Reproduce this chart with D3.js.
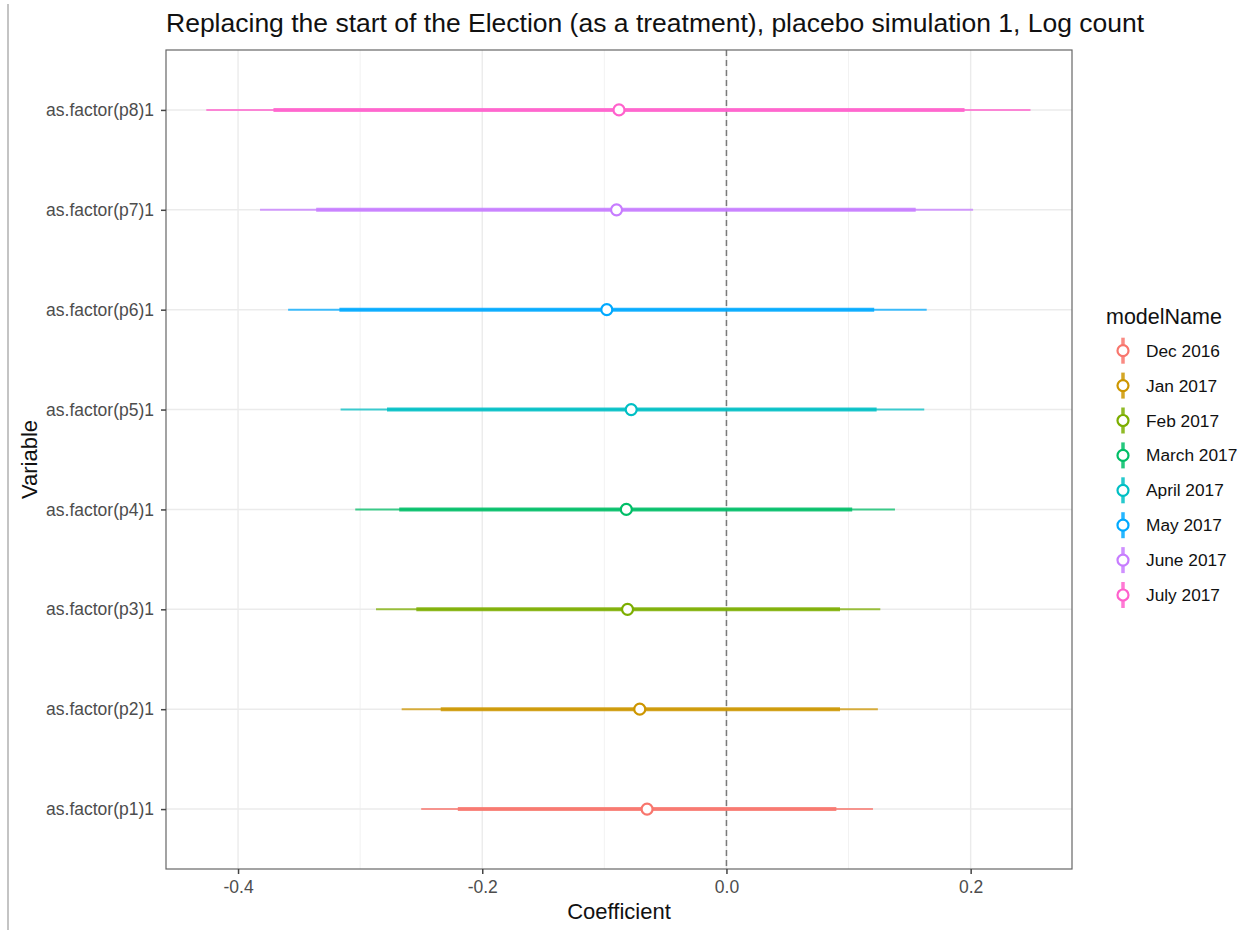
<!DOCTYPE html>
<html>
<head>
<meta charset="utf-8">
<script src="https://cdn.jsdelivr.net/npm/d3@7"></script>
<style>
  body { margin: 0; background: #fff; }
  text { font-family: "Liberation Sans", Arial, Helvetica, sans-serif; }
</style>
</head>
<body>
<svg></svg>
<script>
let variables = ['as.factor(p1)1', 'as.factor(p2)1', 'as.factor(p3)1', 'as.factor(p4)1',
                 'as.factor(p5)1', 'as.factor(p6)1', 'as.factor(p7)1', 'as.factor(p8)1'];
let models = ['Dec 2016', 'Jan 2017', 'Feb 2017', 'March 2017',
              'April 2017', 'May 2017', 'June 2017', 'July 2017'];
let estimate = [-0.065, -0.071, -0.081, -0.082, -0.078, -0.098, -0.090, -0.088];
let innerLow = [-0.220, -0.234, -0.254, -0.268, -0.278, -0.317, -0.336, -0.371];
let innerHigh = [0.090, 0.093, 0.093, 0.103, 0.123, 0.121, 0.155, 0.195];
let outerLow = [-0.250, -0.266, -0.287, -0.304, -0.316, -0.359, -0.382, -0.426];
let outerHigh = [0.120, 0.124, 0.126, 0.138, 0.162, 0.164, 0.202, 0.249];
let majorTicks = [-0.4, -0.2, 0.0, 0.2];
let minorTicks = [-0.3, -0.1, 0.1];
let colors = ['#F8766D', '#CD9600', '#7CAE00', '#00BE67', '#00BFC4', '#00A9FF', '#C77CFF', '#FF61CC'];

let rows = variables.map((v, i) => ({
    variable: v, model: models[i], est: estimate[i],
    lo: innerLow[i], hi: innerHigh[i], lo2: outerLow[i], hi2: outerHigh[i]
}));

let svgWidth = 1253, svgHeight = 930;
let panel = {left: 166, right: 1072, top: 50, bottom: 869};

let svg = d3.select('svg')
            .attr('width', svgWidth)
            .attr('height', svgHeight);

let x = d3.scaleLinear().domain([-0.459, 0.283]).range([panel.left, panel.right]);
let y = d3.scalePoint().domain(variables).range([panel.bottom, panel.top]).padding(0.6);
let color = d3.scaleOrdinal().domain(models).range(colors);

// thin frame line on the far left
svg.append('line')
   .attr('x1', 8).attr('x2', 8).attr('y1', 4).attr('y2', svgHeight)
   .attr('stroke', '#b0b0b0').attr('stroke-width', 1.5);

// grid
let grid = svg.append('g');
grid.selectAll('.minor').data(minorTicks).enter().append('line')
    .attr('x1', d => x(d)).attr('x2', d => x(d))
    .attr('y1', panel.top).attr('y2', panel.bottom)
    .attr('stroke', '#f2f2f2').attr('stroke-width', 1);
grid.selectAll('.major').data(majorTicks).enter().append('line')
    .attr('x1', d => x(d)).attr('x2', d => x(d))
    .attr('y1', panel.top).attr('y2', panel.bottom)
    .attr('stroke', '#ebebeb').attr('stroke-width', 1.4);
grid.selectAll('.hmajor').data(variables).enter().append('line')
    .attr('x1', panel.left).attr('x2', panel.right)
    .attr('y1', d => y(d)).attr('y2', d => y(d))
    .attr('stroke', '#ebebeb').attr('stroke-width', 1.4);

// zero reference line
svg.append('line')
   .attr('x1', x(0)).attr('x2', x(0))
   .attr('y1', panel.top).attr('y2', panel.bottom)
   .attr('stroke', '#7a7a7a').attr('stroke-width', 1.5)
   .attr('stroke-dasharray', '6,4');

// intervals and points
let marks = svg.append('g');
marks.selectAll('.outer').data(rows).enter().append('line')
     .attr('x1', d => x(d.lo2)).attr('x2', d => x(d.hi2))
     .attr('y1', d => y(d.variable)).attr('y2', d => y(d.variable))
     .attr('stroke', d => color(d.model)).attr('stroke-width', 2)
     .attr('stroke-opacity', 0.75);
marks.selectAll('.inner').data(rows).enter().append('line')
     .attr('x1', d => x(d.lo)).attr('x2', d => x(d.hi))
     .attr('y1', d => y(d.variable)).attr('y2', d => y(d.variable))
     .attr('stroke', d => color(d.model)).attr('stroke-width', 4)
     .attr('stroke-opacity', 0.85);
marks.selectAll('circle').data(rows).enter().append('circle')
     .attr('cx', d => x(d.est)).attr('cy', d => y(d.variable))
     .attr('r', 5.5)
     .attr('fill', '#fff').attr('stroke', d => color(d.model)).attr('stroke-width', 2.2);

// panel border
svg.append('rect')
   .attr('x', panel.left).attr('y', panel.top)
   .attr('width', panel.right - panel.left).attr('height', panel.bottom - panel.top)
   .attr('fill', 'none').attr('stroke', '#666').attr('stroke-width', 1.2);

// axes
let xAxis = svg.append('g')
   .attr('transform', 'translate(0,' + panel.bottom + ')')
   .call(d3.axisBottom(x).tickValues(majorTicks).tickFormat(d => d.toFixed(1)).tickSize(5).tickPadding(6.5));
let yAxis = svg.append('g')
   .attr('transform', 'translate(' + panel.left + ',0)')
   .call(d3.axisLeft(y).tickSize(5).tickPadding(7));
[xAxis, yAxis].forEach(a => {
    a.select('.domain').remove();
    a.selectAll('.tick line').attr('stroke', '#444').attr('stroke-width', 1.5);
    a.selectAll('.tick text').attr('fill', '#4d4d4d').style('font-size', '17.5px')
     .style('font-family', '"Liberation Sans", Arial, sans-serif');
});

// titles
svg.append('text')
   .attr('x', panel.left).attr('y', 31.5)
   .style('font-size', '26.5px').attr('fill', '#111')
   .text('Replacing the start of the Election (as a treatment), placebo simulation 1, Log count');
svg.append('text')
   .attr('x', (panel.left + panel.right) / 2).attr('y', 919)
   .attr('text-anchor', 'middle').style('font-size', '22px').attr('fill', '#111')
   .text('Coefficient');
svg.append('text')
   .attr('transform', 'translate(37,' + ((panel.top + panel.bottom) / 2) + ') rotate(-90)')
   .attr('text-anchor', 'middle').style('font-size', '22px').attr('fill', '#111')
   .text('Variable');

// legend
let legend = svg.append('g').attr('transform', 'translate(1106,0)');
legend.append('text')
      .attr('x', 0).attr('y', 324)
      .style('font-size', '21.5px').attr('fill', '#111')
      .text('modelName');
let item = legend.selectAll('.item').data(models).enter().append('g')
      .attr('transform', (d, i) => 'translate(0,' + (350.7 + i * 34.9) + ')');
item.append('line')
    .attr('x1', 17).attr('x2', 17).attr('y1', -13).attr('y2', 13)
    .attr('stroke', d => color(d)).attr('stroke-width', 3.5).attr('stroke-opacity', 0.85);
item.append('circle')
    .attr('cx', 17).attr('cy', 0).attr('r', 5.5)
    .attr('fill', '#fff').attr('stroke', d => color(d)).attr('stroke-width', 2.2);
item.append('text')
    .attr('x', 40).attr('y', 0).attr('dy', '0.35em')
    .style('font-size', '17.3px').attr('fill', '#111')
    .text(d => d);
</script>
</body>
</html>
